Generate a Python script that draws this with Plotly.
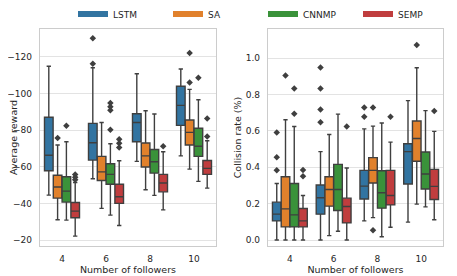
import plotly.graph_objects as go

followers = ["4", "6", "8", "10"]
methods = ["LSTM", "SA", "CNNMP", "SEMP"]
colors = ["#3274a1", "#e1812c", "#3a923a", "#c03d3e"]

# Average reward: per group [min, q1, median, q3, max]
reward_LSTM = [[-114.8, -87.0, -66.3, -57.9, -44.6], [-114.0, -83.7, -73.1, -63.7, -53.5],
               [-110.7, -88.9, -84.2, -73.7, -63.0], [-113.3, -103.9, -93.5, -82.6, -66.0]]
reward_SA = [[-71.9, -55.4, -49.0, -43.0, -31.2], [-84.2, -65.7, -57.3, -52.6, -37.4],
             [-90.6, -73.0, -66.0, -59.9, -47.5], [-102.2, -85.5, -78.8, -71.9, -58.8]]
reward_CNNMP = [[-73.7, -54.6, -46.8, -40.8, -31.0], [-72.6, -61.7, -55.9, -50.5, -33.7],
                [-88.8, -69.5, -62.8, -56.6, -44.5], [-96.6, -81.0, -71.2, -65.7, -52.1]]
reward_SEMP = [[-51.5, -40.6, -35.9, -32.3, -22.3], [-63.3, -50.5, -43.7, -40.1, -28.1],
               [-68.2, -55.9, -51.2, -46.4, -36.6], [-74.2, -63.5, -59.2, -55.9, -48.4]]
reward_LSTM_out = [[], [-130.0, -116.2], [], []]
reward_SA_out = [[-75.7], [], [], [-122.0, -106.0]]
reward_CNNMP_out = [[-82.4], [-94.8, -92.8, -90.9, -80.2], [], [-108.6]]
reward_SEMP_out = [[-55.9, -54.4, -53.0], [-75.1, -72.8, -70.6], [-71.2], [-86.4, -76.6]]

# Collision rate: per group [min, q1, median, q3, max]
coll_LSTM = [[0.0, 0.105, 0.142, 0.208, 0.311], [0.0, 0.142, 0.232, 0.302, 0.486],
             [0.105, 0.225, 0.296, 0.383, 0.611], [0.098, 0.308, 0.486, 0.529, 0.766]]
coll_SA = [[0.0, 0.072, 0.171, 0.348, 0.661], [0.024, 0.186, 0.278, 0.348, 0.580],
           [0.123, 0.313, 0.383, 0.453, 0.626], [0.197, 0.433, 0.558, 0.654, 0.947]]
coll_CNNMP = [[0.0, 0.072, 0.138, 0.311, 0.624], [0.048, 0.162, 0.278, 0.416, 0.692],
              [0.018, 0.175, 0.260, 0.381, 0.643], [0.182, 0.280, 0.363, 0.484, 0.711]]
coll_SEMP = [[0.0, 0.072, 0.105, 0.173, 0.245], [0.0, 0.094, 0.184, 0.230, 0.396],
             [0.070, 0.193, 0.245, 0.383, 0.538], [0.111, 0.223, 0.295, 0.388, 0.597]]
coll_LSTM_out = [[0.591, 0.455, 0.383], [0.949, 0.833, 0.718, 0.648], [0.729, 0.678], []]
coll_SA_out = [[0.904], [], [0.729, 0.053], [1.072]]
coll_CNNMP_out = [[0.833, 0.694], [], [], []]
coll_SEMP_out = [[0.385, 0.350], [0.624], [0.678], [0.709]]

reward_stats = [reward_LSTM, reward_SA, reward_CNNMP, reward_SEMP]
reward_outs = [reward_LSTM_out, reward_SA_out, reward_CNNMP_out, reward_SEMP_out]
coll_stats = [coll_LSTM, coll_SA, coll_CNNMP, coll_SEMP]
coll_outs = [coll_LSTM_out, coll_SA_out, coll_CNNMP_out, coll_SEMP_out]

LINE = "#3f3f3f"
FONT = "DejaVu Sans"
n_h = len(methods)
bw = 0.8 / n_h

# page body has an 8px default margin; size the figure to fit the window
OFF = 8
W, H = 457 - OFF, 276 - OFF


def px_x(x):
    return (x - OFF) / W


def px_y(y):
    return 1 - (y - OFF) / H


fig = go.Figure()


def add_panel(stats_all, outs_all, xa, ya):
    for j, m in enumerate(methods):
        stats = stats_all[j]
        outs = outs_all[j]
        pos = [i + (j - (n_h - 1) / 2) * bw for i in range(len(followers))]
        fig.add_trace(go.Box(
            x=pos,
            lowerfence=[s[0] for s in stats],
            q1=[s[1] for s in stats],
            median=[s[2] for s in stats],
            q3=[s[3] for s in stats],
            upperfence=[s[4] for s in stats],
            width=bw * 0.98,
            whiskerwidth=0.5,
            fillcolor=colors[j],
            line=dict(color=LINE, width=1.4),
            boxpoints=False,
            showlegend=False,
            hoverinfo="skip",
            xaxis=xa, yaxis=ya,
        ))
        ox, oy = [], []
        for i, o in enumerate(outs):
            for v in o:
                ox.append(pos[i])
                oy.append(v)
        if ox:
            fig.add_trace(go.Scatter(
                x=ox, y=oy, mode="markers",
                marker=dict(symbol="diamond", size=5, color=LINE),
                showlegend=False, hoverinfo="skip",
                xaxis=xa, yaxis=ya,
            ))


add_panel(reward_stats, reward_outs, "x", "y")
add_panel(coll_stats, coll_outs, "x2", "y2")

for j, m in enumerate(methods):
    fig.add_trace(go.Scatter(
        x=[None], y=[None], mode="lines", name=m,
        line=dict(color=colors[j], width=6),
        xaxis="x", yaxis="y",
    ))

axis_common = dict(
    showline=True, mirror=True, linecolor="#cccccc", linewidth=1.25,
    zeroline=False, automargin=False,
    tickfont=dict(family=FONT, size=9, color="#262626"),
    title_font=dict(family=FONT, size=9.5, color="#262626"),
)
xcommon = dict(axis_common, range=[-0.5, 3.5], tickvals=list(range(len(followers))),
               ticktext=followers, showgrid=False, ticks="", ticklabelstandoff=4,
               title_text="Number of followers", title_standoff=1)
ydom = [px_y(246), px_y(29)]

fig.update_layout(
    template="none",
    width=W, height=H,
    margin=dict(l=0, r=0, t=0, b=0, autoexpand=False),
    paper_bgcolor="white", plot_bgcolor="white",
    font=dict(family=FONT, size=9, color="#262626"),
    xaxis=dict(xcommon, domain=[px_x(40), px_x(216)], anchor="y"),
    xaxis2=dict(xcommon, domain=[px_x(268), px_x(443)], anchor="y2"),
    yaxis=dict(axis_common, domain=ydom, anchor="x",
               range=[-16.9, -135.1], tickvals=[-120, -100, -80, -60, -40, -20],
               showgrid=True, gridcolor="#e3e3e3", gridwidth=1, ticks="",
               ticklabelstandoff=5, title_text="Average reward", title_standoff=6),
    yaxis2=dict(axis_common, domain=ydom, anchor="x2",
                range=[-0.033, 1.16], tickvals=[0.0, 0.2, 0.4, 0.6, 0.8, 1.0],
                tickformat=".1f",
                showgrid=True, gridcolor="#e3e3e3", gridwidth=1, ticks="",
                ticklabelstandoff=5, title_text="Collision rate (%)", title_standoff=2),
    legend=dict(orientation="h", x=px_x(73), xanchor="left", y=px_y(14),
                yanchor="middle", font=dict(family=FONT, size=9, color="#262626"),
                entrywidth=50, bgcolor="rgba(0,0,0,0)", itemwidth=30,
                borderwidth=0),
    showlegend=True,
)

fig.write_html("out.html")
